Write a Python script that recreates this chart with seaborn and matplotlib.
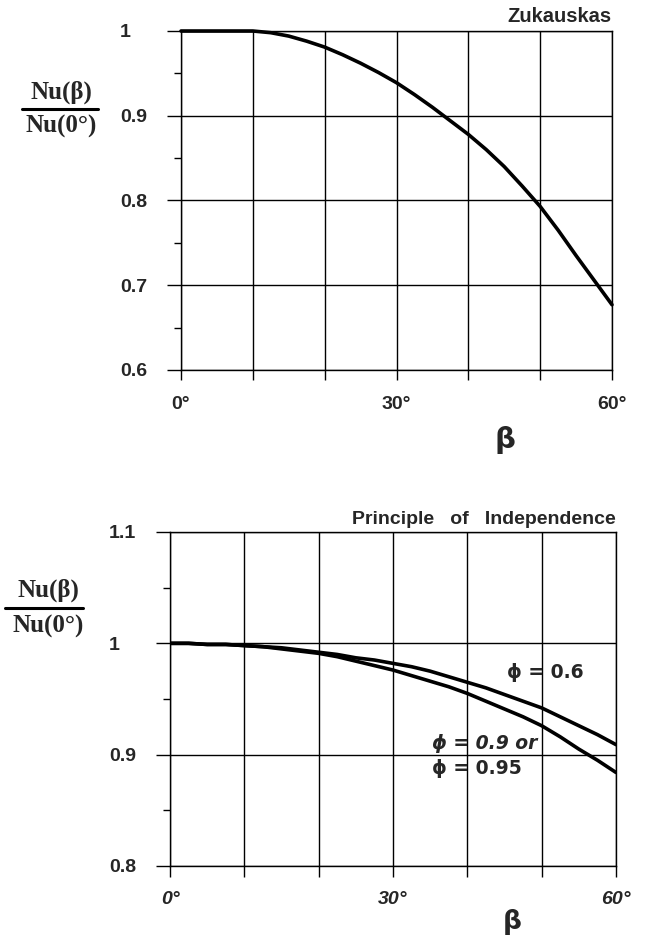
import numpy as np
import pandas as pd
import matplotlib
matplotlib.use("Agg")
import matplotlib.pyplot as plt
from matplotlib.lines import Line2D
from matplotlib.ticker import MultipleLocator, FixedLocator
import seaborn as sns

# ---- data ----
beta_top = [0, 2.5, 5, 7.5, 10, 12.5, 15, 17.5, 20, 22.5, 25, 27.5, 30, 32.5, 35,
            37.5, 40, 42.5, 45, 47.5, 50, 52.5, 55, 57.5, 60]
nu_zukauskas = [1.0, 1.0, 1.0, 1.0, 1.0, 0.998, 0.994, 0.988, 0.981, 0.972, 0.962,
                0.951, 0.939, 0.925, 0.910, 0.894, 0.878, 0.860, 0.840, 0.817, 0.793,
                0.765, 0.735, 0.706, 0.677]

beta_bot = [0, 2.5, 5, 7.5, 10, 12.5, 15, 17.5, 20, 22.5, 25, 27.5, 30, 32.5, 35,
            37.5, 40, 42.5, 45, 47.5, 50, 52.5, 55, 57.5, 60]
nu_phi06 = [1.0, 1.0, 0.999, 0.999, 0.998, 0.997, 0.996, 0.994, 0.992, 0.990, 0.987,
            0.985, 0.982, 0.979, 0.975, 0.970, 0.965, 0.960, 0.954, 0.948, 0.942,
            0.934, 0.926, 0.918, 0.909]
nu_phi09 = [1.0, 1.0, 0.999, 0.999, 0.998, 0.997, 0.995, 0.993, 0.991, 0.988, 0.984,
            0.980, 0.976, 0.971, 0.966, 0.961, 0.955, 0.948, 0.941, 0.934, 0.926,
            0.916, 0.905, 0.895, 0.884]

x_tick_labels = {0: "0°", 30: "30°", 60: "60°"}
top_yticks = [0.6, 0.7, 0.8, 0.9, 1.0]
top_ylabels = ["0.6", "0.7", "0.8", "0.9", "1"]
bot_yticks = [0.8, 0.9, 1.0, 1.1]
bot_ylabels = ["0.8", "0.9", "1", "1.1"]

sns.set_theme(style="ticks")
plt.rcParams["font.family"] = ["Liberation Sans", "DejaVu Sans"]
plt.rcParams["font.weight"] = "bold"

W, H = 647, 939
fig = plt.figure(figsize=(W / 100, H / 100), dpi=100)

def fx(px):
    return px / W

def fy(py):
    return 1 - py / H

def style_axes(ax, ylim, yticks, ylabels, italic_x, xtick_len, xpad):
    ax.set_xlim(0, 60)
    ax.set_ylim(*ylim)
    ax.xaxis.set_major_locator(MultipleLocator(10))
    ax.set_xticklabels([x_tick_labels.get(int(round(t)), "") for t in ax.get_xticks()])
    ax.yaxis.set_major_locator(FixedLocator(yticks))
    ax.set_yticklabels(ylabels)
    ax.yaxis.set_minor_locator(FixedLocator([t + 0.05 for t in yticks[:-1]]))
    ax.grid(True, which="major", color="black", linewidth=1.0)
    for s in ax.spines.values():
        s.set_visible(True)
        s.set_color("black")
        s.set_linewidth(1.0)
    ax.tick_params(axis="x", which="major", direction="out", length=xtick_len, width=1.0,
                   color="black", pad=xpad, labelsize=14)
    ax.tick_params(axis="y", which="major", direction="out", length=10, width=1.0,
                   color="black", pad=34, labelsize=14)
    ax.tick_params(axis="y", which="minor", direction="out", length=5, width=1.0, color="black")
    for lab in ax.get_yticklabels():
        lab.set_horizontalalignment("left")
        lab.set_fontweight("bold")
    for lab in ax.get_xticklabels():
        lab.set_fontweight("bold")
        if italic_x:
            lab.set_fontstyle("italic")
    ax.set_xlabel("")
    ax.set_ylabel("")

# ---- top panel ----
ax1 = fig.add_axes([fx(181), fy(370), fx(612 - 181), (370 - 31) / H])
df_top = pd.DataFrame({"beta": beta_top, "nu": nu_zukauskas})
sns.lineplot(data=df_top, x="beta", y="nu", ax=ax1, color="black", linewidth=2.6)
for ln in ax1.get_lines():
    ln.set_clip_on(False)
style_axes(ax1, (0.6, 1.0), top_yticks, top_ylabels, False, 7, 12)
ax1.text(1.0, 1.015, "Zukauskas", transform=ax1.transAxes, ha="right", va="bottom",
         fontsize=14.5, fontweight="bold")

# ---- bottom panel ----
ax2 = fig.add_axes([fx(170), fy(866), fx(616 - 170), (866 - 532) / H])
df_bot = pd.DataFrame({
    "beta": beta_bot + beta_bot,
    "nu": nu_phi06 + nu_phi09,
    "phi": ["0.6"] * len(beta_bot) + ["0.9"] * len(beta_bot),
})
sns.lineplot(data=df_bot, x="beta", y="nu", hue="phi", palette=["black", "black"],
             ax=ax2, linewidth=2.6, legend=False)
style_axes(ax2, (0.8, 1.1), bot_yticks, bot_ylabels, True, 8, 10)
ax2.text(1.0, 1.012, "Principle   of   Independence", transform=ax2.transAxes, ha="right",
         va="bottom", fontsize=14, fontweight="bold")

ann_fam = ["DejaVu Sans"]
fig.text(fx(507), fy(673), "ϕ = 0.6", ha="left", va="center", fontsize=13.5,
         fontweight="bold", family=ann_fam)
fig.text(fx(432), fy(743), "ϕ = 0.9 or", ha="left", va="center", fontsize=13.5,
         fontweight="bold", fontstyle="italic", family=ann_fam)
fig.text(fx(432), fy(769), "ϕ = 0.95", ha="left", va="center", fontsize=13.5,
         fontweight="bold", family=ann_fam)

# ---- beta axis labels ----
fig.text(fx(505), fy(440), "β", ha="center", va="center", fontsize=21,
         family=["DejaVu Sans"])
fig.text(fx(512), fy(922), "β", ha="center", va="center", fontsize=19,
         family=["DejaVu Sans"])

# ---- fraction y labels ----
serif = ["Liberation Serif", "DejaVu Serif"]
def frac_label(cx, y_num, y_line, y_den, x0, x1):
    fig.text(fx(cx), fy(y_num), "Nu(β)", ha="center", va="center", fontsize=18,
             fontweight="bold", family=serif)
    fig.add_artist(Line2D([fx(x0), fx(x1)], [fy(y_line), fy(y_line)], color="black",
                          linewidth=2.2, transform=fig.transFigure))
    fig.text(fx(cx), fy(y_den), "Nu(0°)", ha="center", va="center", fontsize=18,
             fontweight="bold", family=serif)

frac_label(61, 92, 109, 126, 22, 98)
frac_label(48, 590, 608, 626, 5, 83)

fig.savefig("out.png", dpi=100)
